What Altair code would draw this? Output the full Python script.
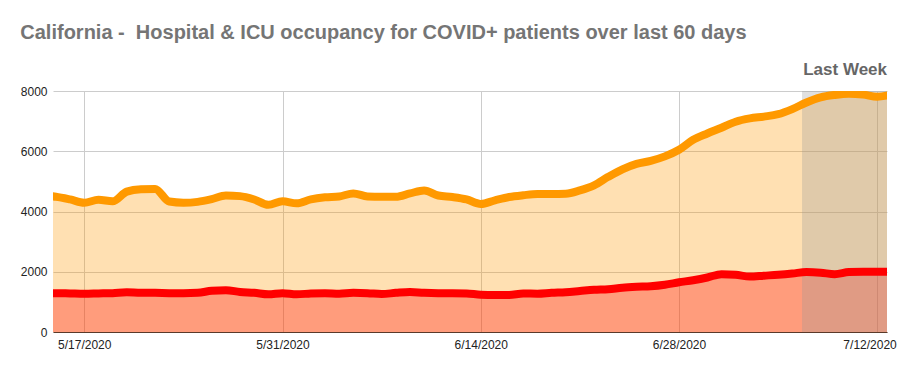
import altair as alt
import pandas as pd

# ---- data -------------------------------------------------------------
start_date = "2020-05-14"
n_days = 61
hospital = [4530, 4490, 4400, 4290, 4390, 4340, 4660, 4740, 4750, 4330,
            4290, 4320, 4410, 4530, 4510, 4400, 4220, 4340, 4270, 4400,
            4470, 4500, 4600, 4500, 4490, 4490, 4600, 4700, 4530, 4480,
            4400, 4250, 4370, 4480, 4540, 4580, 4580, 4590, 4700, 4870,
            5150, 5400, 5580, 5680, 5830, 6050, 6380, 6590, 6780, 6980,
            7090, 7150, 7230, 7400, 7620, 7790, 7870, 7910, 7880, 7810,
            7880]
icu = [1290, 1290, 1280, 1270, 1280, 1290, 1320, 1300, 1300, 1290,
       1290, 1300, 1370, 1390, 1330, 1300, 1250, 1290, 1250, 1280,
       1290, 1270, 1300, 1290, 1260, 1300, 1330, 1300, 1290, 1290,
       1280, 1240, 1230, 1230, 1280, 1270, 1300, 1320, 1360, 1400,
       1420, 1470, 1500, 1520, 1570, 1650, 1720, 1810, 1920, 1900,
       1840, 1870, 1900, 1940, 1990, 1970, 1920, 1990, 2000, 2000,
       2000]
tick_dates = ["2020-05-17", "2020-05-31", "2020-06-14", "2020-06-28", "2020-07-12"]
last_week = ["2020-07-06T16:30:00Z", "2020-07-12T16:30:00Z"]
last_week_label = "Last Week"
title_text = "California - \u00a0Hospital & ICU occupancy for COVID+ patients over last 60 days"

dates = pd.date_range(start_date, periods=n_days, freq="D").strftime("%Y-%m-%dT00:00:00Z")
df = pd.DataFrame({"date": list(dates), "hospital": hospital, "icu": icu})
shade_df = pd.DataFrame({"start": [last_week[0]], "end": [last_week[1]], "label": [last_week_label]})


def dt(s, h=0, m=0):
    y, mo, d = [int(v) for v in s.split("-")]
    return alt.DateTime(year=y, month=mo, date=d, hours=h, minutes=m, utc=True)


xscale = alt.Scale(type="utc", domain=[dt("2020-05-14", 19, 0), dt("2020-07-12", 16, 30)])
xaxis = alt.Axis(values=[dt(d) for d in tick_dates], format="%-m/%-d/%Y", title=None,
                 grid=True, gridColor="#cccccc", ticks=False, domainColor="#5a3a2a",
                 labelPadding=7, labelFontSize=12, labelColor="#222222",
                 labelAlign=alt.ConditionalAxisLabelAlign(
                     condition={"test": "datum.index == 1", "value": "right"}, value="center"),
                 labelOffset=alt.ConditionalAxisNumber(
                     condition={"test": "datum.index == 1", "value": 19}, value=0))
yscale = alt.Scale(domain=[0, 8000], nice=False)
yaxis = alt.Axis(values=[0, 2000, 4000, 6000, 8000], format="d", title=None, grid=True,
                 gridColor="#cccccc", ticks=False, domain=False, labelPadding=6,
                 labelFontSize=12, labelColor="#222222")

X = alt.X("date:T", scale=xscale, axis=xaxis)
base = alt.Chart(df)

area_h = base.mark_area(color="#ff9900", opacity=0.3, interpolate="monotone", clip=True).encode(
    x=X, y=alt.Y("hospital:Q", scale=yscale, axis=yaxis))
area_i = base.mark_area(color="#ff0000", opacity=0.3, interpolate="monotone", clip=True).encode(
    x=X, y=alt.Y("icu:Q", scale=yscale))
shade = alt.Chart(shade_df).mark_rect(color="#999999", opacity=0.3).encode(
    x=alt.X("start:T", scale=xscale), x2="end:T")
line_h = base.mark_line(color="#ff9900", strokeWidth=8, interpolate="monotone", clip=True).encode(
    x=X, y=alt.Y("hospital:Q", scale=yscale))
line_i = base.mark_line(color="#ff0000", strokeWidth=8, interpolate="monotone", clip=True).encode(
    x=X, y=alt.Y("icu:Q", scale=yscale))
label = alt.Chart(shade_df).mark_text(align="right", baseline="alphabetic", fontSize=17,
                                      fontWeight="bold", color="#666666",
                                      font="Liberation Sans").encode(
    x=alt.X("end:T", scale=xscale), y=alt.value(-16), text="label:N")

chart = alt.layer(area_h, area_i, shade, line_h, line_i, label).properties(
    width=834, height=241,
    title=alt.TitleParams(title_text, anchor="start", fontSize=20, font="Liberation Sans",
                          fontWeight="bold", color="#757575", dx=0, offset=2,
                          baseline="alphabetic"),
    autosize=alt.AutoSizeParams(type="none"),
    padding={"left": 45, "top": 83, "right": 10, "bottom": 30},
).configure_view(stroke=None).configure_axis(labelFont="Liberation Sans")

chart.save("out.html", embed_options={"renderer": "svg", "actions": False})
